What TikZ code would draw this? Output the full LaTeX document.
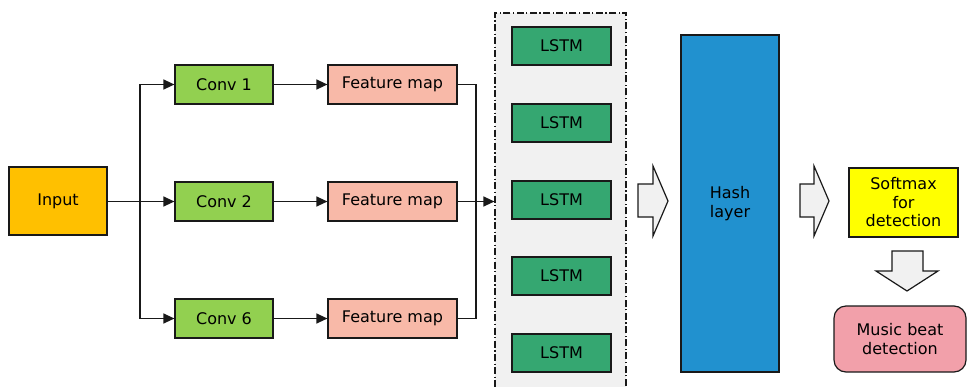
\documentclass[tikz,border=0pt]{standalone}
\usepackage{fontspec}
\setmainfont{DejaVu Sans}
\usetikzlibrary{arrows.meta}
\definecolor{inputcol}{RGB}{255,192,0}
\definecolor{convcol}{RGB}{146,208,80}
\definecolor{fmapcol}{RGB}{248,185,168}
\definecolor{lstmcol}{RGB}{53,167,113}
\definecolor{hashcol}{RGB}{33,145,207}
\definecolor{softcol}{RGB}{255,255,0}
\definecolor{beatcol}{RGB}{242,160,170}
\definecolor{panelcol}{RGB}{241,241,241}

\begin{document}
\begin{tikzpicture}[x=1pt, y=-1pt, font=\fontsize{16}{18.5}\selectfont,
  box/.style = {draw=black!90, line width=1.2pt, inner sep=0pt, align=center},
  flow/.style = {line width=1.3pt, draw=black!90, -{Triangle[length=11pt,width=10pt]}},
  link/.style = {line width=1.3pt, draw=black!90},
  bigarrow/.style = {draw=black!90, line width=1.2pt, fill=panelcol, line join=miter}]
\useasboundingbox (0,0) rectangle (968,386);
\clip (0,0) rectangle (968,386);

\node[box, fill=panelcol, minimum width=131, minimum height=387,
      dash pattern=on 7pt off 2.5pt on 1.2pt off 2.5pt] (panel) at (560.5,206.5) {};

\node[box, fill=inputcol, minimum width=98, minimum height=68] (input) at (58,201) {Input};

\node[box, fill=convcol, minimum width=98, minimum height=39] (conv1) at (224,84.5) {Conv 1};
\node[box, fill=convcol, minimum width=98, minimum height=39] (conv2) at (224,201.5) {Conv 2};
\node[box, fill=convcol, minimum width=98, minimum height=39] (conv6) at (224,318.5) {Conv 6};

\node[box, fill=fmapcol, minimum width=129, minimum height=39] (fmap1) at (392.5,84.5) {Feature map};
\node[box, fill=fmapcol, minimum width=129, minimum height=39] (fmap2) at (392.5,201.5) {Feature map};
\node[box, fill=fmapcol, minimum width=129, minimum height=39] (fmap6) at (392.5,318.5) {Feature map};

\node[box, fill=lstmcol, minimum width=99, minimum height=38] (lstm1) at (561.5,46) {LSTM};
\node[box, fill=lstmcol, minimum width=99, minimum height=38] (lstm2) at (561.5,123) {LSTM};
\node[box, fill=lstmcol, minimum width=99, minimum height=38] (lstm3) at (561.5,200) {LSTM};
\node[box, fill=lstmcol, minimum width=99, minimum height=38] (lstm4) at (561.5,276) {LSTM};
\node[box, fill=lstmcol, minimum width=99, minimum height=38] (lstm5) at (561.5,353) {LSTM};

\node[box, fill=hashcol, minimum width=98, minimum height=337] (hash) at (730,203.5) {Hash\\layer};
\node[box, fill=softcol, minimum width=109, minimum height=69] (softmax) at (903.5,202.5) {Softmax\\for\\detection};
\node[box, fill=beatcol, minimum width=132, minimum height=66, rounded corners=12pt] (beat) at (900,339) {Music beat\\detection};

\coordinate (split) at (140,201.5);
\coordinate (merge) at (476,201.5);

\draw[flow] (input.east |- split) -- (conv2);
\draw[flow] (split) |- (conv1);
\draw[flow] (split) |- (conv6);

\draw[flow] (conv1) -- (fmap1);
\draw[flow] (conv2) -- (fmap2);
\draw[flow] (conv6) -- (fmap6);

\draw[link] (fmap1.east) -| (merge);
\draw[link] (fmap6.east) -| (merge);
\draw[flow] (fmap2) -- (panel.west |- fmap2);

\draw[bigarrow] (638,184) -- (653,184) -- (653,166) -- (668,201) -- (653,236) -- (653,217) -- (638,217) -- cycle;
\draw[bigarrow] (800,184) -- (814,184) -- (814,166) -- (829,201) -- (814,236) -- (814,217) -- (800,217) -- cycle;
\draw[bigarrow] (892,251) -- (923,251) -- (923,271) -- (938,271) -- (907,291) -- (876,271) -- (892,271) -- cycle;

\end{tikzpicture}
\end{document}
